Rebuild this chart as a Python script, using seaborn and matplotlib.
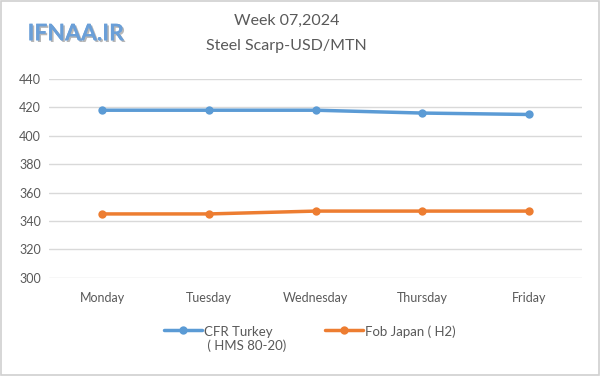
import numpy as np
import matplotlib.pyplot as plt
import pandas as pd
import seaborn as sns
import matplotlib.patheffects as pe

days = ['Monday', 'Tuesday', 'Wednesday', 'Thursday', 'Friday']
cfr_turkey = [418, 418, 418, 416, 415]
fob_japan = [345, 345, 347, 347, 347]
label_turkey = 'CFR Turkey\n ( HMS 80-20)'
label_japan = 'Fob Japan ( H2)'
y_ticks = [300, 320, 340, 360, 380, 400, 420, 440]

sns.set_style("white")
plt.rcParams['font.family'] = ['Lato', 'DejaVu Sans']

df = pd.DataFrame({
    'day': days * 2,
    'price': cfr_turkey + fob_japan,
    'series': [label_turkey] * 5 + [label_japan] * 5,
})

fig = plt.figure(figsize=(6, 3.76), dpi=100)
ax = fig.add_axes([0.082, 0.261, 0.888, 0.529])
sns.lineplot(data=df, x='day', y='price', hue='series', sort=False,
             palette=['#5B9BD5', '#ED7D31'], marker='o', markersize=6,
             markeredgewidth=0, linewidth=2.5, ax=ax)

ax.set_ylim(300, 440)
ax.set_yticks(y_ticks)
ax.set_xlim(-0.5, 4.5)
ax.grid(axis='y', color='#D9D9D9', linewidth=1)
ax.set_axisbelow(True)
for s in ax.spines.values():
    s.set_visible(False)
ax.set_xlabel('')
ax.set_ylabel('')
ax.tick_params(axis='both', length=0, labelsize=9, colors='#595959', pad=6)
ax.tick_params(axis='x', pad=10)

leg = ax.legend(loc='upper left', bbox_to_anchor=(0.215, -0.24), ncol=2, frameon=False,
                fontsize=9.5, labelcolor='#595959', handlelength=2.9, columnspacing=2.9,
                handletextpad=0.15, borderpad=0, borderaxespad=0)
# put the handle next to the first line of the two-line label
leg._legend_handle_box.align = 'top'
for col in leg._legend_handle_box.get_children():
    for row in col.get_children():
        row.align = 'top'

fig.text(0.478, 0.945, 'Week 07,2024', ha='center', va='center', fontsize=11.5, color='#595959')
fig.text(0.478, 0.877, 'Steel Scarp-USD/MTN', ha='center', va='center', fontsize=11.5, color='#595959')
fig.text(0.046, 0.91, 'IFNAA.IR', ha='left', va='center', fontsize=16.5, fontweight='bold',
         color='#6A9FD8',
         path_effects=[pe.withSimplePatchShadow(offset=(1.2, -1.2), shadow_rgbFace='#888888', alpha=0.6),
                       pe.Normal()])

fig.patches.append(plt.Rectangle((0.002, 0.003), 0.996, 0.994, transform=fig.transFigure,
                                 fill=False, edgecolor='#D0D0D0', linewidth=1.2))

fig.savefig('out.png', dpi=100)
